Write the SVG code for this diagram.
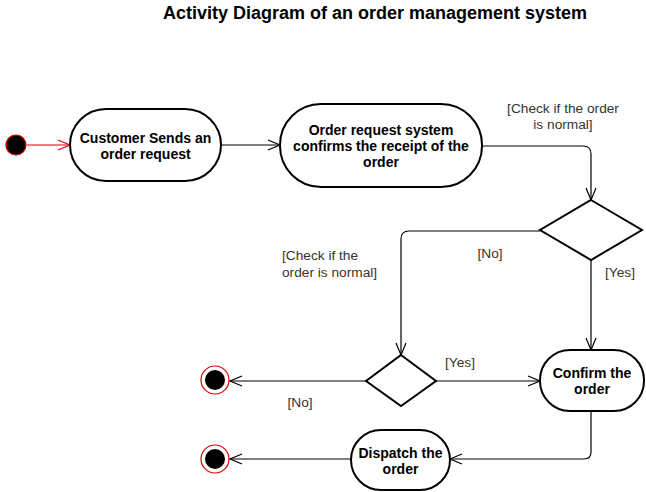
<svg xmlns="http://www.w3.org/2000/svg" width="646" height="492" viewBox="0 0 646 492">
<style>
.node{fill:#fff;stroke:#000;stroke-width:2}
.nt{font-family:"Liberation Sans",Arial,sans-serif;font-size:14px;font-weight:bold;fill:#000;text-anchor:middle}
.lbl{font-family:"Liberation Sans",Arial,sans-serif;font-size:13.7px;fill:#333}
.edge{fill:none;stroke:#000;stroke-width:1.2}
.title{font-family:"Liberation Sans",Arial,sans-serif;font-size:18px;font-weight:bold;fill:#000;text-anchor:middle}
</style>
<defs>
<marker id="arr" markerWidth="14" markerHeight="12" refX="13" refY="6" orient="auto" markerUnits="userSpaceOnUse">
<path d="M1,1 L13,6 L1,11" fill="none" stroke="#000" stroke-width="1.2"/>
</marker>
<marker id="arrR" markerWidth="14" markerHeight="12" refX="13" refY="6" orient="auto" markerUnits="userSpaceOnUse">
<path d="M1,1 L13,6 L1,11" fill="none" stroke="#d00" stroke-width="1.2"/>
</marker>
</defs>
<rect width="646" height="492" fill="#fff"/>
<text class="title" x="375" y="19">Activity Diagram of an order management system</text>

<g id="connectors">
<path class="edge" d="M27,145 L70,145" style="stroke:#d00" marker-end="url(#arrR)"/>
<path class="edge" d="M221,145 L280,145" marker-end="url(#arr)"/>
<path class="edge" d="M482,146 L583,146 Q591,146 591,154 L591,200" marker-end="url(#arr)"/>
<path class="edge" d="M540,231 L409,231 Q401,231 401,239 L401,355" marker-end="url(#arr)"/>
<path class="edge" d="M591,260 L591,350" marker-end="url(#arr)"/>
<path class="edge" d="M436,381 L540,381" marker-end="url(#arr)"/>
<path class="edge" d="M366,381 L230,381" marker-end="url(#arr)"/>
<path class="edge" d="M591,411 L591,452 Q591,459 584,459 L450,459" marker-end="url(#arr)"/>
<path class="edge" d="M351,459 L230,459" marker-end="url(#arr)"/>
<text class="lbl" x="563" y="113" text-anchor="middle">[Check if the order</text>
<text class="lbl" x="563" y="129" text-anchor="middle">is normal]</text>
<text class="lbl" x="490" y="258" text-anchor="middle">[No]</text>
<text class="lbl" x="620" y="277" text-anchor="middle">[Yes]</text>
<text class="lbl" x="282" y="260">[Check if the</text>
<text class="lbl" x="282" y="277">order is normal]</text>
<text class="lbl" x="460" y="367" text-anchor="middle">[Yes]</text>
<text class="lbl" x="300" y="407" text-anchor="middle">[No]</text>
</g>

<g id="start">
<circle cx="16" cy="145" r="10" fill="#000" stroke="#d00" stroke-width="1.2"/>
</g>
<g id="customer-sends">
<rect class="node" x="70" y="109" width="151" height="72" rx="36" ry="36"/>
<text class="nt" x="145.5" y="143">Customer Sends an</text>
<text class="nt" x="145.5" y="159">order request</text>
</g>
<g id="order-request-system">
<rect class="node" x="280" y="104" width="202" height="83" rx="41" ry="41"/>
<text class="nt" x="381" y="135">Order request system</text>
<text class="nt" x="381" y="151">confirms the receipt of the</text>
<text class="nt" x="381" y="167">order</text>
</g>
<g id="decision1">
<polygon class="node" points="591,200 642,230 591,260 540,230"/>
</g>
<g id="decision2">
<polygon class="node" points="401,355 436,381 401,406 366,381"/>
</g>
<g id="confirm-order">
<rect class="node" x="540" y="350" width="104" height="61" rx="30" ry="30"/>
<text class="nt" x="592" y="378">Confirm the</text>
<text class="nt" x="592" y="394">order</text>
</g>
<g id="dispatch-order">
<rect class="node" x="351" y="430" width="99" height="60" rx="30" ry="30"/>
<text class="nt" x="400.5" y="458">Dispatch the</text>
<text class="nt" x="400.5" y="474">order</text>
</g>
<g id="final1">
<circle cx="215" cy="380" r="14" fill="#fff" stroke="#d00" stroke-width="1.2"/>
<circle cx="215" cy="380" r="10" fill="#000"/>
</g>
<g id="final2">
<circle cx="215" cy="459" r="14" fill="#fff" stroke="#d00" stroke-width="1.2"/>
<circle cx="215" cy="459" r="10" fill="#000"/>
</g>
</svg>
